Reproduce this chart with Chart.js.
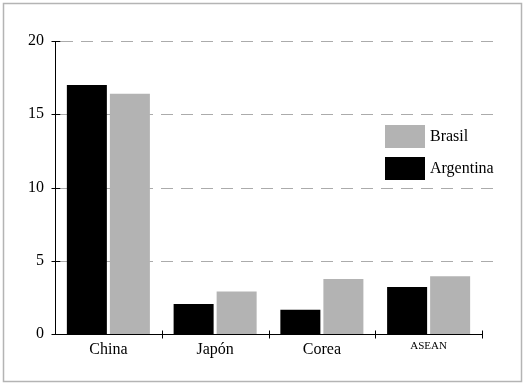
<!DOCTYPE html>
<html>
<head>
<meta charset="utf-8">
<script src="https://cdn.jsdelivr.net/npm/chart.js@4/dist/chart.umd.min.js"></script>
<style>
  html, body { margin: 0; padding: 0; background: #fff; }
  canvas { display: block; }
</style>
</head>
<body>
<canvas id="chart" width="526" height="386"></canvas>
<script>
// categories and series
const categories = ['China', 'Japón', 'Corea', 'ASEAN'];
const argentina = [17.0, 2.05, 1.65, 3.2];
const brasil = [16.4, 2.9, 3.75, 3.95];
const yTicks = [0, 5, 10, 15, 20];

const serif = '"Liberation Serif", "DejaVu Serif", serif';

// border, gridlines, axes and crossing tick marks
const framePlugin = {
  id: 'frame',
  beforeDatasetsDraw(chart) {
    const ctx = chart.ctx;
    const area = chart.chartArea;
    const x = chart.scales.x;
    const y = chart.scales.y;

    ctx.save();
    // outer gray frame
    ctx.strokeStyle = '#b4b4b4';
    ctx.lineWidth = 1.5;
    ctx.strokeRect(3.5, 3.5, 518, 378);

    // dashed gridlines
    ctx.strokeStyle = '#ababab';
    ctx.lineWidth = 1;
    ctx.setLineDash([12, 8]);
    for (const v of yTicks) {
      if (v === 0) continue;
      const py = Math.round(y.getPixelForValue(v)) + 0.5;
      ctx.beginPath();
      ctx.moveTo(area.left + 6, py);
      ctx.lineTo(area.right + 11, py);
      ctx.stroke();
    }
    ctx.restore();
  },
  afterDatasetsDraw(chart) {
    const ctx = chart.ctx;
    const area = chart.chartArea;
    const x = chart.scales.x;
    const y = chart.scales.y;

    ctx.save();
    ctx.strokeStyle = '#000';
    ctx.lineWidth = 1;
    const left = Math.round(area.left) + 0.5;
    const bottom = Math.round(area.bottom) + 0.5;

    ctx.beginPath();
    ctx.moveTo(left, area.top);
    ctx.lineTo(left, bottom);
    ctx.lineTo(area.right, bottom);
    ctx.stroke();

    // y ticks cross the axis
    for (const v of yTicks) {
      const py = Math.round(y.getPixelForValue(v)) + 0.5;
      ctx.beginPath();
      ctx.moveTo(left - 4, py);
      ctx.lineTo(left + 5, py);
      ctx.stroke();
    }

    // x ticks at category boundaries
    const half = (x.getPixelForValue(1) - x.getPixelForValue(0)) / 2;
    for (let i = 0; i < categories.length; i++) {
      const px = Math.round(x.getPixelForValue(i) + half) + 0.5;
      ctx.beginPath();
      ctx.moveTo(px, bottom - 4);
      ctx.lineTo(px, bottom + 4);
      ctx.stroke();
    }
    ctx.restore();
  }
};

// legend inside the plot, Brasil first
const boxLegend = {
  id: 'boxLegend',
  afterDraw(chart) {
    const ctx = chart.ctx;
    const area = chart.chartArea;
    const sets = chart.data.datasets.slice().reverse();
    const bx = area.right - 97;
    let by = 125;

    ctx.save();
    ctx.font = '16px ' + serif;
    ctx.textBaseline = 'middle';
    ctx.fillStyle = '#000';
    sets.forEach((ds) => {
      ctx.fillStyle = ds.backgroundColor;
      ctx.fillRect(bx, by, 40, 23);
      ctx.fillStyle = '#000';
      ctx.fillText(ds.label, bx + 45, by + 12);
      by += 32;
    });
    ctx.restore();
  }
};

new Chart(document.getElementById('chart'), {
  type: 'bar',
  data: {
    labels: categories,
    datasets: [
      {
        label: 'Argentina',
        data: argentina,
        backgroundColor: '#000000',
        categoryPercentage: 0.806,
        barPercentage: 0.93,
      },
      {
        label: 'Brasil',
        data: brasil,
        backgroundColor: '#b3b3b3',
        categoryPercentage: 0.806,
        barPercentage: 0.93,
      },
    ],
  },
  options: {
    responsive: false,
    animation: false,
    devicePixelRatio: 1,
    layout: { padding: { top: 41, right: 44, left: 0, bottom: 0 } },
    plugins: {
      legend: { display: false },
      tooltip: { enabled: false },
    },
    scales: {
      x: {
        grid: { display: false, drawTicks: false },
        border: { display: false },
        ticks: {
          color: '#000',
          padding: 6,
          font: (c) => ({ family: serif, size: c.index === 3 ? 11 : 16 }),
        },
        afterFit(scale) { scale.height = 52; },
      },
      y: {
        min: 0,
        max: 20,
        grid: { display: false, drawTicks: false },
        border: { display: false },
        ticks: {
          color: '#000',
          padding: 11,
          stepSize: 5,
          font: { family: serif, size: 16 },
        },
        afterFit(scale) { scale.width = 55; },
      },
    },
  },
  plugins: [framePlugin, boxLegend],
});
</script>
</body>
</html>
